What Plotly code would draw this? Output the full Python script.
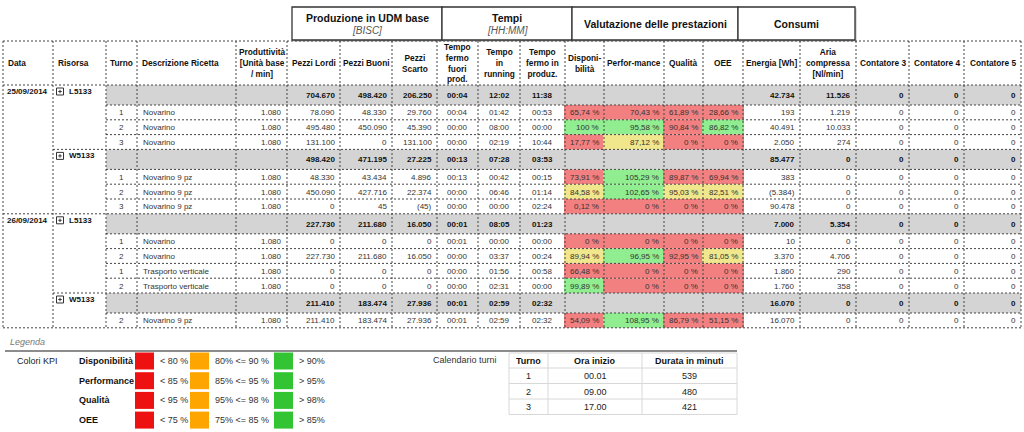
import plotly.graph_objects as go

# ---------------- DATA ----------------
row_kind = ['g', 'd', 'd', 'd', 'g', 'd', 'd', 'd', 'g', 'd', 'd', 'd', 'd', 'g', 'd']
dates = ['25/09/2014', '26/09/2014']
date_first_row = [0, 8]
resources = ['L5133', 'W5133', 'L5133', 'W5133']
resource_first_row = [0, 4, 8, 13]

turno = ['', '1', '2', '3', '', '1', '2', '3', '', '1', '2', '1', '2', '', '2']
ricetta = ['', 'Novarino', 'Novarino', 'Novarino', '', 'Novarino 9 pz', 'Novarino 9 pz', 'Novarino 9 pz',
           '', 'Novarino', 'Novarino', 'Trasporto verticale', 'Trasporto verticale', '', 'Novarino 9 pz']
produttivita = ['', '1.080', '1.080', '1.080', '', '1.080', '1.080', '1.080', '', '1.080', '1.080', '1.080', '1.080', '', '1.080']
pezzi_lordi = ['704.670', '78.090', '495.480', '131.100', '498.420', '48.330', '450.090', '0',
               '227.730', '0', '227.730', '0', '0', '211.410', '211.410']
pezzi_buoni = ['498.420', '48.330', '450.090', '0', '471.195', '43.434', '427.716', '45',
               '211.680', '0', '211.680', '0', '0', '183.474', '183.474']
pezzi_scarto = ['206.250', '29.760', '45.390', '131.100', '27.225', '4.896', '22.374', '(45)',
                '16.050', '0', '16.050', '0', '0', '27.936', '27.936']
t_fuori = ['00:04', '00:04', '00:00', '00:00', '00:13', '00:13', '00:00', '00:00',
           '00:01', '00:01', '00:00', '00:00', '00:00', '00:01', '00:01']
t_running = ['12:02', '01:42', '08:00', '02:19', '07:28', '00:42', '06:46', '00:00',
             '08:05', '00:00', '03:37', '01:56', '02:31', '02:59', '02:59']
t_fermo = ['11:38', '00:53', '00:00', '10:44', '03:53', '00:15', '01:14', '02:24',
           '01:23', '00:00', '00:24', '00:58', '00:00', '02:32', '02:32']
disp = ['', '65,74 %', '100 %', '17,77 %', '', '73,91 %', '84,58 %', '0,12 %',
        '', '0 %', '89,94 %', '66,48 %', '99,89 %', '', '54,09 %']
perf = ['', '70,43 %', '95,58 %', '87,12 %', '', '105,29 %', '102,65 %', '0 %',
        '', '0 %', '96,95 %', '0 %', '0 %', '', '108,95 %']
qual = ['', '61,89 %', '90,84 %', '0 %', '', '89,87 %', '95,03 %', '0 %',
        '', '0 %', '92,95 %', '0 %', '0 %', '', '86,79 %']
oee = ['', '28,66 %', '86,82 %', '0 %', '', '69,94 %', '82,51 %', '0 %',
       '', '0 %', '81,05 %', '0 %', '0 %', '', '51,15 %']
disp_st = ['', 'r', 'g', 'r', '', 'r', 'y', 'r', '', 'r', 'y', 'r', 'g', '', 'r']
perf_st = ['', 'r', 'g', 'y', '', 'g', 'g', 'r', '', 'r', 'g', 'r', 'r', '', 'g']
qual_st = ['', 'r', 'r', 'r', '', 'r', 'y', 'r', '', 'r', 'r', 'r', 'r', '', 'r']
oee_st = ['', 'r', 'g', 'r', '', 'r', 'y', 'r', '', 'r', 'y', 'r', 'r', '', 'r']
energia = ['42.734', '193', '40.491', '2.050', '85.477', '383', '(5.384)', '90.478',
           '7.000', '10', '3.370', '1.860', '1.760', '16.070', '16.070']
aria = ['11.526', '1.219', '10.033', '274', '0', '0', '0', '0',
        '5.354', '0', '4.706', '290', '358', '0', '0']
contatore3 = ['0'] * 15
contatore4 = ['0'] * 15
contatore5 = ['0'] * 15

headers = ['Data', 'Risorsa', 'Turno', 'Descrizione Ricetta', 'Produttività<br>[Unità base<br>/ min]',
           'Pezzi Lordi', 'Pezzi Buoni', 'Pezzi<br>Scarto', 'Tempo<br>fermo<br>fuori<br>prod.',
           'Tempo<br>in<br>running', 'Tempo<br>fermo in<br>produz.', 'Disponi-<br>bilità', 'Perfor-mance',
           'Qualità', 'OEE', 'Energia [Wh]', 'Aria<br>compressa<br>[Nl/min]', 'Contatore 3',
           'Contatore 4', 'Contatore 5']
group_titles = ['Produzione in UDM base', 'Tempi', 'Valutazione delle prestazioni', 'Consumi']
group_units = ['[BISC]', '[HH:MM]', '', '']

kpi_names = ['Disponibilità', 'Performance', 'Qualità', 'OEE']
kpi_low = ['< 80 %', '< 85 %', '< 95 %', '< 75 %']
kpi_mid = ['80% <= 90 %', '85% <= 95 %', '95% <= 98 %', '75% <= 85 %']
kpi_high = ['> 90%', '> 95%', '> 98%', '> 85%']

shift_no = ['1', '2', '3']
shift_start = ['00.01', '09.00', '17.00']
shift_minutes = ['539', '480', '421']

# ---------------- LAYOUT ----------------
edges = [3, 53, 106, 137, 236, 287, 340, 392, 437, 478, 520, 565, 604, 664, 703, 743, 800, 856, 909, 964, 1021]
group_edges = [(292, 442), (442, 572), (572, 738), (738, 855)]
HEAD_TOP, HEAD_BOT = 41, 85
GRAY_H, DET_H = 20, 14.8
FONT = 'Liberation Sans, Arial, sans-serif'
DASH = '2px,2px'
LINE_C = '#444444'
KPI_FILL = {'r': '#F28080', 'g': '#90EE90', 'y': '#F0E68C'}
GRAY = '#D4D4D4'
TXT = '#333333'

tops = []
y = HEAD_BOT
for k in row_kind:
    tops.append(y)
    y += GRAY_H if k == 'g' else DET_H
BOTTOM = y

shapes = []
ann = []


def text(x, y, s, size=8, bold=False, align='center', color=TXT, italic=False, xanchor=None):
    if bold:
        s = '<b>' + s + '</b>'
    if italic:
        s = '<i>' + s + '</i>'
    ann.append(dict(x=x, y=y, xref='x', yref='y', text=s, showarrow=False,
                    xanchor=xanchor or align, yanchor='middle', align=align,
                    font=dict(family=FONT, size=size, color=color)))


def rect(x0, y0, x1, y1, fill, lc=None, lw=0, layer='below'):
    shapes.append(dict(type='rect', xref='x', yref='y', x0=x0, y0=y0, x1=x1, y1=y1,
                       fillcolor=fill, line=dict(color=lc or fill, width=lw), layer=layer))


def line(x0, y0, x1, y1, color=LINE_C, width=1, dash=None):
    d = dict(color=color, width=width)
    if dash:
        d['dash'] = dash
    shapes.append(dict(type='line', xref='x', yref='y', x0=x0, y0=y0, x1=x1, y1=y1, line=d, layer='above'))


# group header boxes
for (gx0, gx1), t, u in zip(group_edges, group_titles, group_units):
    rect(gx0 + 1.5, 8.5, gx1 + 1.5, 41.5, '#BBBBBB')
    rect(gx0, 7, gx1, 40, 'white', '#333333', 1.3, layer='below')
    cx = (gx0 + gx1) / 2
    if u:
        text(cx, 17.5, t, size=10.5, bold=True, color='#111111')
        text(cx, 30, u, size=10, italic=True, color='#555555')
    else:
        text(cx, 23.5, t, size=10.5, bold=True, color='#111111')

# header labels
for i, h in enumerate(headers):
    x0, x1 = edges[i], edges[i + 1]
    if i in (0, 1, 3):
        text(x0 + 3, 63, h, size=8.3, bold=True, align='left', color='#111111')
    else:
        text((x0 + x1) / 2, 63, h, size=8.3, bold=True, align='center', color='#111111')

# gray group rows
for r, k in enumerate(row_kind):
    if k == 'g':
        rect(edges[2], tops[r], edges[-1], tops[r] + GRAY_H, GRAY)

# KPI colored cells
kpi_cols = [(disp, disp_st, 11), (perf, perf_st, 12), (qual, qual_st, 13), (oee, oee_st, 14)]
for vals, sts, c in kpi_cols:
    for r, st in enumerate(sts):
        if st:
            rect(edges[c] - 1, tops[r], edges[c + 1] + 1, tops[r] + DET_H, KPI_FILL[st])

# cell texts
right_cols = [(produttivita, 4), (pezzi_lordi, 5), (pezzi_buoni, 6), (pezzi_scarto, 7),
              (disp, 11), (perf, 12), (qual, 13), (oee, 14), (energia, 15), (aria, 16),
              (contatore3, 17), (contatore4, 18), (contatore5, 19)]
center_cols = [(turno, 2), (t_fuori, 8), (t_running, 9), (t_fermo, 10)]
for r, k in enumerate(row_kind):
    h = GRAY_H if k == 'g' else DET_H
    cy = tops[r] + h / 2 + 0.5
    b = (k == 'g')
    col = '#111111' if b else TXT
    for vals, c in right_cols:
        if vals[r]:
            text(edges[c + 1] - 3, cy, vals[r], bold=b, align='right', color=col)
    for vals, c in center_cols:
        if vals[r]:
            text((edges[c] + edges[c + 1]) / 2, cy, vals[r], bold=b, align='center', color=col)
    if ricetta[r]:
        text(edges[3] + 4, cy, ricetta[r], align='left', color=col)

# dates and resources
for d, r in zip(dates, date_first_row):
    text(edges[1] - 3, tops[r] + 6.5, d, bold=True, align='right', color='#111111')
for res, r in zip(resources, resource_first_row):
    bx, by = edges[1] + 3.5, tops[r] + 3
    rect(bx, by, bx + 7, by + 7, 'white', '#333333', 1, layer='above')
    line(bx + 1.8, by + 3.5, bx + 5.2, by + 3.5, '#333333', 1)
    line(bx + 3.5, by + 1.8, bx + 3.5, by + 5.2, '#333333', 1)
    text(bx + 10, tops[r] + 6.5, res, bold=True, align='left', color='#111111')

# dashed grid
line(edges[0], HEAD_TOP, edges[-1], HEAD_TOP, dash=DASH)
line(edges[0], HEAD_BOT, edges[-1], HEAD_BOT, dash=DASH)
for e in edges:
    line(e, HEAD_TOP, e, BOTTOM, dash=DASH)
for r in range(1, len(row_kind) + 1):
    yb = tops[r] if r < len(row_kind) else BOTTOM
    if r == len(row_kind) or r in date_first_row:
        xs = edges[0]
    elif r in resource_first_row:
        xs = edges[1]
    else:
        xs = edges[2]
    line(xs, yb, edges[-1], yb, dash=DASH)

# ---------------- LEGEND ----------------
text(8, 342, 'Legenda', size=9, italic=True, align='left', color='#777777')
line(5, 351, 737, 351, '#666666', 1.5)
text(15, 361, 'Colori KPI', size=9, align='left', color='#222222')
sq_colors = ['#EE1111', '#FFA500', '#33C433']
for i, name in enumerate(kpi_names):
    cy = 361 + i * 19.7
    text(77, cy, name, size=9, bold=True, align='left', color='#111111')
    for sx, sc, lab in zip([135, 190, 274], sq_colors, [kpi_low[i], kpi_mid[i], kpi_high[i]]):
        rect(sx, cy - 8.5, sx + 19, cy + 8.5, sc)
        text(sx + 23, cy, lab, size=9, align='left', color='#333333')

# shift calendar
text(499, 360, 'Calendario turni', size=9, align='right', color='#333333')
cal_x = [509, 548, 642, 737]
cal_y = [353, 368, 383.5, 399, 414.5]
rect(cal_x[0], cal_y[0], cal_x[-1], cal_y[-1], 'white', '#D8D8D8', 1)
for xv in cal_x[1:-1]:
    line(xv, cal_y[0], xv, cal_y[-1], '#D8D8D8', 1)
for yv in cal_y[1:-1]:
    line(cal_x[0], yv, cal_x[-1], yv, '#D8D8D8', 1)
for j, hd in enumerate(['Turno', 'Ora inizio', 'Durata in minuti']):
    text((cal_x[j] + cal_x[j + 1]) / 2, (cal_y[0] + cal_y[1]) / 2 + 0.5, hd, size=9, bold=True, color='#111111')
for i in range(3):
    cy = (cal_y[i + 1] + cal_y[i + 2]) / 2 + 0.5
    for j, v in enumerate([shift_no[i], shift_start[i], shift_minutes[i]]):
        text((cal_x[j] + cal_x[j + 1]) / 2, cy, v, size=9, color='#222222')

fig = go.Figure()
fig.add_trace(go.Scatter(x=[0, 1024], y=[0, 432], mode='markers', marker=dict(opacity=0), hoverinfo='skip', showlegend=False))
fig.update_layout(
    width=1024, height=432, margin=dict(l=0, r=0, t=0, b=0),
    paper_bgcolor='white', plot_bgcolor='white', showlegend=False,
    xaxis=dict(range=[0, 1024], visible=False, fixedrange=True),
    yaxis=dict(range=[432, 0], visible=False, fixedrange=True),
    shapes=shapes, annotations=ann,
)
fig.write_html('out.html', config={'displayModeBar': False},
               post_script="document.body.style.margin='0px';document.body.style.overflow='hidden';")
